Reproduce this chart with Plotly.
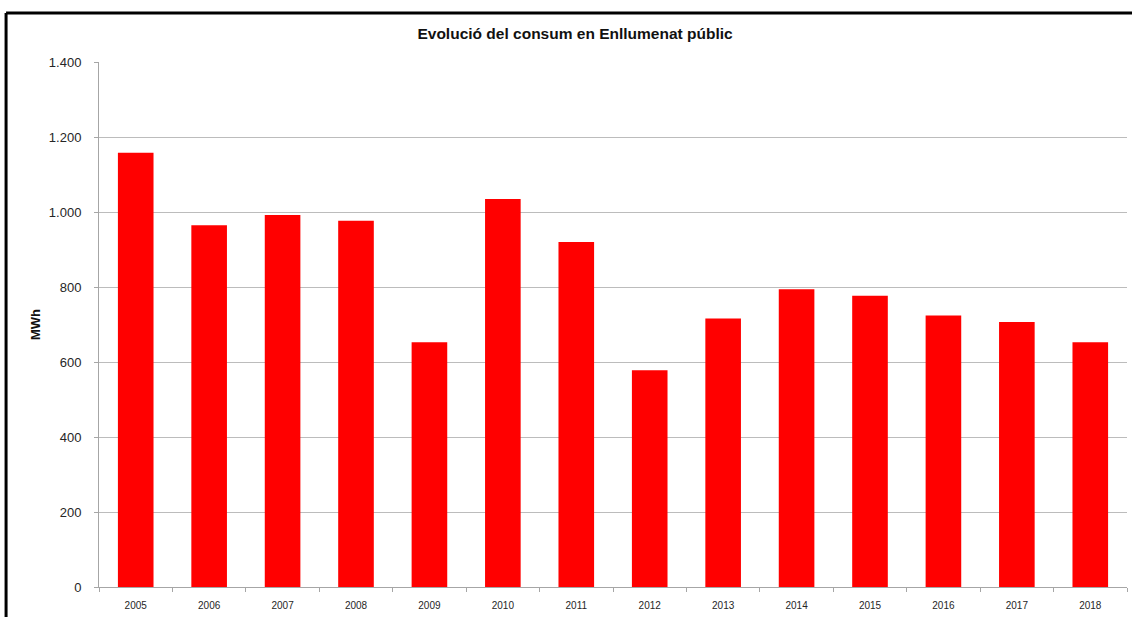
import plotly.graph_objects as go

years = ["2005", "2006", "2007", "2008", "2009", "2010", "2011",
         "2012", "2013", "2014", "2015", "2016", "2017", "2018"]
consum_mwh = [1158, 965, 992, 977, 653, 1035, 920, 578, 716, 794, 777, 724, 707, 653]
y_tick_vals = [0, 200, 400, 600, 800, 1000, 1200, 1400]
y_tick_text = ["0", "200", "400", "600", "800", "1.000", "1.200", "1.400"]

FONT = "Liberation Sans, Arial, sans-serif"

fig = go.Figure()
fig.add_trace(go.Bar(
    x=years, y=consum_mwh,
    marker=dict(color="#ff0000", line=dict(width=0)),
    hoverinfo="x+y",
))

border = dict(color="black", width=3)
fig.update_layout(
    width=1132, height=617,
    margin=dict(l=99, r=5, t=62, b=30, autoexpand=False),
    paper_bgcolor="white", plot_bgcolor="white",
    bargap=0.515,
    showlegend=False,
    font=dict(family=FONT, color="#262626"),
    title=dict(
        text="<b>Evolució del consum en Enllumenat públic</b>",
        x=0.508, xanchor="center", y=0.946, yanchor="middle",
        font=dict(size=15.5, family=FONT, color="#111111"),
    ),
    xaxis=dict(
        type="category",
        automargin=False,
        showline=True, linecolor="#a6a6a6", linewidth=1,
        ticks="outside", ticklen=4, tickcolor="#a6a6a6",
        tickson="boundaries",
        showgrid=False,
        tickfont=dict(size=10),
        ticklabelstandoff=9,
    ),
    yaxis=dict(
        range=[0, 1400],
        automargin=False,
        tickvals=y_tick_vals, ticktext=y_tick_text,
        showline=True, linecolor="#a6a6a6", linewidth=1,
        ticks="outside", ticklen=4, tickcolor="#a6a6a6",
        showgrid=True, gridcolor="#bcbcbc", gridwidth=1,
        zeroline=False,
        tickfont=dict(size=13),
        ticklabelstandoff=10,
        title=dict(text="<b>MWh</b>", font=dict(size=13, color="#111111"), standoff=5),
    ),
    shapes=[
        dict(type="line", xref="paper", yref="paper",
             x0=-0.0904, x1=-0.0904, y0=-0.3, y1=1.0933, line=border, layer="above"),
        dict(type="line", xref="paper", yref="paper",
             x0=-0.0904, x1=1.2, y0=1.0933, y1=1.0933, line=border, layer="above"),
    ],
)

fig.write_html(
    "out.html",
    config={"displayModeBar": False},
    post_script="document.body.style.margin='0';document.body.style.overflow='hidden';",
)
